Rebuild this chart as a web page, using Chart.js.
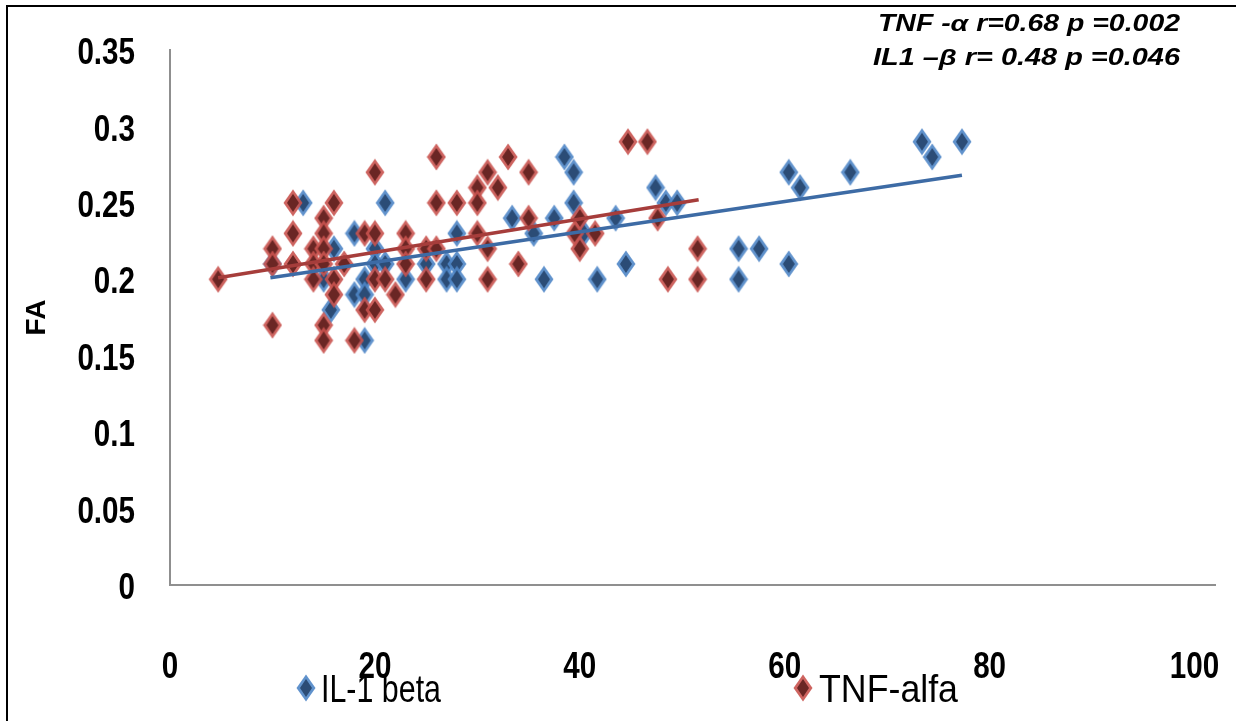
<!DOCTYPE html>
<html>
<head>
<meta charset="utf-8">
<script src="https://cdn.jsdelivr.net/npm/chart.js@4/dist/chart.umd.min.js"></script>
<style>
html,body{margin:0;padding:0;background:#ffffff;}
#wrap{width:1236px;height:721px;position:relative;overflow:hidden;}
</style>
</head>
<body>
<div id="wrap"><canvas id="c" width="1236" height="721"></canvas></div>
<script>
// ---------- data ----------
const seriesNames = ['IL-1 beta', 'TNF-alfa'];

const il1X = [10, 13, 15, 15.7, 16, 18, 18, 19, 19, 19, 20, 20, 21, 21, 23, 25, 27, 27, 28, 28, 28,
              33.4, 35.5, 36.5, 37.5, 38.5, 39.4, 39.4, 40.4, 41.7, 43.5, 44.5, 47.4, 48.4, 49.5,
              55.5, 55.5, 57.5, 60.4, 60.4, 61.5, 66.4, 73.4, 74.4, 77.3];
const il1Y = [0.21, 0.25, 0.20, 0.18, 0.22, 0.23, 0.19, 0.20, 0.19, 0.16, 0.22, 0.21, 0.25, 0.21, 0.20, 0.21, 0.21, 0.20, 0.23, 0.21, 0.20,
              0.24, 0.23, 0.20, 0.24, 0.28, 0.27, 0.25, 0.23, 0.20, 0.24, 0.21, 0.26, 0.25, 0.25,
              0.22, 0.20, 0.22, 0.27, 0.21, 0.26, 0.27, 0.29, 0.28, 0.29];

const tnfX = [4.7, 10, 10, 10, 12, 12, 12, 14, 14, 14, 15, 15, 15, 15, 15, 15, 16, 16, 16, 17,
              18, 19, 19, 20, 20, 20, 20, 21, 22, 23, 23, 23, 25, 25, 26, 26, 26, 28,
              30, 30, 30, 31, 31, 31, 32, 33, 34, 35, 35, 40, 39.5, 40, 41.5, 44.7, 46.6, 47.6, 48.6, 51.5, 51.5];
const tnfY = [0.20, 0.22, 0.21, 0.17, 0.25, 0.23, 0.21, 0.22, 0.21, 0.20, 0.24, 0.23, 0.22, 0.21, 0.17, 0.16, 0.25, 0.20, 0.19, 0.21,
              0.16, 0.23, 0.18, 0.27, 0.23, 0.20, 0.18, 0.20, 0.19, 0.23, 0.22, 0.21, 0.22, 0.20, 0.28, 0.25, 0.22, 0.25,
              0.26, 0.25, 0.23, 0.27, 0.22, 0.20, 0.26, 0.28, 0.21, 0.27, 0.24, 0.24, 0.23, 0.22, 0.23, 0.29, 0.29, 0.24, 0.20, 0.22, 0.20];

// linear trend lines (end points)
const il1TrendX = [9.8, 77.3];
const il1TrendY = [0.201, 0.268];
const tnfTrendX = [4.7, 51.6];
const tnfTrendY = [0.201, 0.252];

const xTicks = [0, 20, 40, 60, 80, 100];
const xTickLabels = ['0', '20', '40', '60', '80', '100'];
const yTicks = [0, 0.05, 0.1, 0.15, 0.2, 0.25, 0.3, 0.35];
const yTickLabels = ['0', '0.05', '0.1', '0.15', '0.2', '0.25', '0.3', '0.35'];
const yTitle = 'FA';
const notes = ['TNF -\u03B1 r=0.68 p =0.002', 'IL1 \u2013\u03B2 r= 0.48 p =0.046'];

// ---------- styling helpers ----------
const SANS = "'Liberation Sans', Arial, sans-serif";

function diamond(outer, inner) {
  const w = 20, h = 28;
  const c = document.createElement('canvas');
  c.width = w; c.height = h;
  const g = c.getContext('2d');
  g.fillStyle = outer;
  g.globalAlpha = 0.9;
  g.beginPath();
  g.moveTo(w / 2, 0.5); g.lineTo(w - 0.5, h / 2); g.lineTo(w / 2, h - 0.5); g.lineTo(0.5, h / 2);
  g.closePath(); g.fill();
  g.globalAlpha = 1;
  const iw = 12, ih = 18;
  g.fillStyle = inner;
  g.beginPath();
  g.moveTo(w / 2, h / 2 - ih / 2); g.lineTo(w / 2 + iw / 2, h / 2); g.lineTo(w / 2, h / 2 + ih / 2); g.lineTo(w / 2 - iw / 2, h / 2);
  g.closePath(); g.fill();
  return c;
}
const blueMarker = diamond('#4f86c6', '#2b4c76');
const redMarker = diamond('#c9534f', '#6a2624');

const toPts = (xs, ys) => xs.map((x, i) => ({ x: x, y: ys[i] }));

function narrowText(ctx, text, x, y, align, sx) {
  ctx.save();
  ctx.translate(x, y);
  ctx.scale(sx, 1);
  ctx.textAlign = align;
  ctx.fillText(text, 0, 0);
  ctx.restore();
}

// frame lines around the picture
const framePlugin = {
  id: 'frame',
  afterDraw(chart) {
    const ctx = chart.ctx;
    ctx.save();
    ctx.strokeStyle = '#000';
    ctx.lineWidth = 2;
    ctx.beginPath();
    ctx.moveTo(7, 721); ctx.lineTo(7, 6); ctx.lineTo(1236, 6);
    ctx.stroke();
    ctx.restore();
  }
};

// condensed tick labels, placed through the chart scales
const tickPlugin = {
  id: 'narrowTicks',
  afterDraw(chart) {
    const ctx = chart.ctx;
    const xs = chart.scales.x, ys = chart.scales.y;
    ctx.save();
    ctx.fillStyle = '#000';
    ctx.font = 'bold 37px ' + SANS;
    ctx.textBaseline = 'middle';
    xs.ticks.forEach((t, i) => {
      narrowText(ctx, xTickLabels[i], xs.getPixelForValue(t.value), xs.top + 83, 'center', 0.8);
    });
    ys.ticks.forEach((t, i) => {
      narrowText(ctx, yTickLabels[i], ys.right - 35, ys.getPixelForValue(t.value) + 4, 'right', 0.8);
    });
    ctx.restore();
  }
};

// correlation notes top right
const notesPlugin = {
  id: 'notes',
  afterDraw(chart) {
    const ctx = chart.ctx;
    ctx.save();
    ctx.fillStyle = '#000';
    ctx.font = 'italic bold 23px ' + SANS;
    ctx.textAlign = 'left';
    ctx.textBaseline = 'alphabetic';
    const lines = [{ t: notes[0], x: 878, y: 31, w: 302 }, { t: notes[1], x: 873, y: 65, w: 307 }];
    lines.forEach(l => {
      const mw = ctx.measureText(l.t).width;
      ctx.save();
      ctx.translate(l.x, l.y);
      ctx.scale(l.w / mw, 1);
      ctx.fillText(l.t, 0, 0);
      ctx.restore();
    });
    ctx.restore();
  }
};

// bottom legend
const legendPlugin = {
  id: 'bottomLegend',
  afterDraw(chart) {
    const ctx = chart.ctx;
    const ds = chart.data.datasets;
    const items = [{ i: 0, mx: 306, tx: 321, w: 120 }, { i: 1, mx: 803, tx: 819, w: 139 }];
    ctx.save();
    ctx.fillStyle = '#000';
    ctx.font = '36px ' + SANS;
    ctx.textBaseline = 'middle';
    ctx.textAlign = 'left';
    items.forEach(it => {
      const img = ds[it.i].pointStyle;
      ctx.drawImage(img, it.mx - img.width / 2, 688 - img.height / 2);
      const label = ds[it.i].label;
      const mw = ctx.measureText(label).width;
      ctx.save();
      ctx.translate(it.tx, 691);
      ctx.scale(it.w / mw, 1.08);
      ctx.fillText(label, 0, 0);
      ctx.restore();
    });
    ctx.restore();
  }
};

new Chart(document.getElementById('c'), {
  type: 'scatter',
  data: {
    datasets: [
      { label: seriesNames[0], data: toPts(il1X, il1Y), pointStyle: blueMarker, pointRadius: 10, order: 3 },
      { label: seriesNames[1], data: toPts(tnfX, tnfY), pointStyle: redMarker, pointRadius: 10, order: 2 },
      { label: 'trend IL-1', type: 'line', data: toPts(il1TrendX, il1TrendY), borderColor: '#3d6ba5', borderWidth: 3.5,
        pointRadius: 0, fill: false, tension: 0, order: 1 },
      { label: 'trend TNF', type: 'line', data: toPts(tnfTrendX, tnfTrendY), borderColor: '#a63d3b', borderWidth: 3.5,
        pointRadius: 0, fill: false, tension: 0, order: 0 }
    ]
  },
  options: {
    responsive: false,
    animation: false,
    devicePixelRatio: 1,
    layout: { padding: { left: 0, right: 21, top: 50, bottom: 0 } },
    plugins: { legend: { display: false }, tooltip: { enabled: false } },
    scales: {
      x: {
        type: 'linear', min: 0, max: 102,
        afterBuildTicks: s => { s.ticks = xTicks.map(v => ({ value: v })); },
        afterFit: s => { s.height = 136; s.paddingLeft = 0; s.paddingRight = 0; },
        grid: { display: true, drawOnChartArea: false, drawTicks: false, color: 'rgba(0,0,0,0)' },
        border: { display: true, color: '#8f8f8f', width: 2 },
        ticks: { display: false }
      },
      y: {
        type: 'linear', min: 0, max: 0.35,
        afterBuildTicks: s => { s.ticks = yTicks.map(v => ({ value: v })); },
        afterFit: s => { s.width = 170; s.paddingTop = 0; s.paddingBottom = 0; },
        grid: { display: true, drawOnChartArea: false, drawTicks: false, color: 'rgba(0,0,0,0)' },
        border: { display: true, color: '#8f8f8f', width: 2 },
        ticks: { display: false },
        title: { display: true, text: yTitle, color: '#000',
                 font: { family: SANS, size: 28, weight: 'bold' }, padding: { top: 20, bottom: 0 } }
      }
    }
  },
  plugins: [framePlugin, tickPlugin, notesPlugin, legendPlugin]
});
</script>
</body>
</html>
